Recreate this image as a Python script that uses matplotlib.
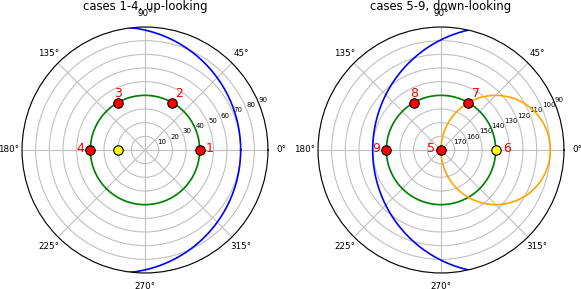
import numpy as np
import matplotlib
matplotlib.use("Agg")
import matplotlib.pyplot as plt

# up-looking cases (zenith angle, deg)
up_cases = ["1", "2", "3", "4"]
up_theta = [0, 60, 120, 180]
up_r = [40, 40, 40, 40]
up_ref_theta = 180
up_ref_r = 20
up_ring_r = 40
up_rticks = [10, 20, 30, 40, 50, 60, 70, 80, 90]

# down-looking cases
down_cases = ["5", "6", "7", "8", "9"]
down_theta = [0, 0, 60, 120, 180]
down_r = [180, 140, 140, 140, 140]
down_colors = ["red", "yellow", "red", "red", "red"]
down_ref_theta = 0
down_ref_r = 140
down_ring_r = 140
down_rticks = [170, 160, 150, 140, 130, 120, 110, 100, 90]

# circle radii (deg) drawn around the reference point
horizon_radius = 90
cone_radius = 40

# label offsets in pixels (dx, dy up)
up_offsets = [(10, 1.5), (6.7, 9), (0, 9), (-10.5, 1.5)]
down_offsets = [(-9.7, 1.5), (11, 1.5), (7.7, 9), (0, 9), (-10, 1.5)]


def circle_around(theta_deg, dist, radius, n=721):
    # circle drawn flat in the polar plane, returned as (theta, distance)
    cx = dist * np.cos(np.radians(theta_deg))
    cy = dist * np.sin(np.radians(theta_deg))
    t = np.linspace(0, 2 * np.pi, n)
    x = cx + radius * np.cos(t)
    y = cy + radius * np.sin(t)
    return np.arctan2(y, x), np.hypot(x, y)


def style_axes(ax, rticks, title):
    ax.set_rticks(rticks)
    ax.set_yticklabels([str(v) for v in rticks], fontsize=5)
    ax.tick_params(axis="x", labelsize=6.3, pad=-1)
    ax.grid(True, color="#c0c0c0", lw=0.8)
    ax.set_title(title, fontsize=8.4, y=1.068, pad=0)


def label_points(ax, thetas, rs, names, offsets):
    for th, r, name, (dx, dy) in zip(thetas, rs, names, offsets):
        ax.annotate(name, (np.radians(th), r), xytext=(dx * 0.72, dy * 0.72),
                    textcoords="offset points", ha="center", va="center",
                    color="red", fontsize=9)


fig = plt.figure(figsize=(5.81, 2.89), dpi=100)

# left: up-looking
ax1 = fig.add_axes([22 / 581, 16 / 289, 246 / 581, 246 / 289], projection="polar")
ax1.set_rlim(0, 90)
tt = np.linspace(0, 2 * np.pi, 361)
ax1.plot(tt, np.full_like(tt, up_ring_r), color="green", lw=1.2)
th, rr = circle_around(up_ref_theta, up_ref_r, horizon_radius)
ax1.plot(th, rr, color="blue", lw=1.2)
ax1.plot(np.radians(up_theta), up_r, "o", color="red", mec="black", ms=6.8, mew=0.8)
ax1.plot(np.radians(up_ref_theta), up_ref_r, "o", color="yellow", mec="black", ms=6.8, mew=0.8)
label_points(ax1, up_theta, up_r, up_cases, up_offsets)
style_axes(ax1, up_rticks, "cases 1-4, up-looking")
ax1.set_rlim(0, 90)

# right: down-looking, radius runs 180 at centre to 90 at edge
ax2 = fig.add_axes([318 / 581, 16 / 289, 246 / 581, 246 / 289], projection="polar")
ax2.set_rlim(180, 90)
ax2.plot(tt, np.full_like(tt, down_ring_r), color="green", lw=1.2)
th, rr = circle_around(down_ref_theta, 180 - down_ref_r, cone_radius)
ax2.plot(th, 180 - rr, color="orange", lw=1.2)
th, rr = circle_around(down_ref_theta, 180 - down_ref_r, horizon_radius)
ax2.plot(th, 180 - rr, color="blue", lw=1.2)
for t0, r0, c in zip(down_theta, down_r, down_colors):
    ax2.plot(np.radians(t0), r0, "o", color=c, mec="black", ms=6.8, mew=0.8)
label_points(ax2, down_theta, down_r, down_cases, down_offsets)
style_axes(ax2, down_rticks, "cases 5-9, down-looking")
ax2.set_rlim(180, 90)

fig.savefig("out.png", dpi=100)
